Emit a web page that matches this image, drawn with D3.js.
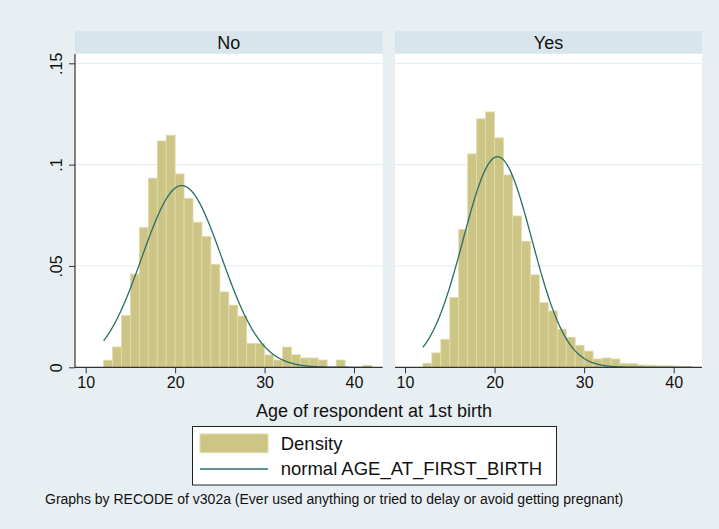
<!DOCTYPE html>
<html>
<head>
<meta charset="utf-8">
<script src="https://cdn.jsdelivr.net/npm/d3@7"></script>
<style>
body { margin: 0; background: #e8eff2; }
text { font-family: "Liberation Sans", Arial, sans-serif; fill: #111; }
</style>
</head>
<body>
<svg id="chart" width="719" height="529"></svg>
<script>
// histogram bins (start of each 1-year bin)
var binStarts = [12, 13, 14, 15, 16, 17, 18, 19, 20, 21, 22, 23, 24, 25, 26, 27, 28, 29, 30, 31, 32, 33, 34, 35, 36, 37, 38, 39, 40, 41];

var densityNo = [0.0035, 0.010, 0.0255, 0.046, 0.069, 0.0933, 0.1117, 0.1145, 0.0954, 0.0834,
                 0.0716, 0.0645, 0.0508, 0.0372, 0.0307, 0.0253, 0.0118, 0.0118, 0.0061, 0.0036,
                 0.010, 0.0062, 0.0046, 0.0046, 0.0036, 0, 0.0036, 0, 0, 0.001];

var densityYes = [0.002, 0.0071, 0.0138, 0.0345, 0.0681, 0.1053, 0.1226, 0.126, 0.1132, 0.0949,
                  0.0747, 0.0622, 0.0456, 0.0319, 0.0278, 0.0188, 0.0148, 0.0109, 0.008, 0.0041,
                  0.0046, 0.0041, 0.0018, 0.0018, 0.0011, 0.001, 0.0007, 0.0007, 0.0005, 0.0003];

// fitted normal parameters (mean, sd) for each panel
var normalNo = [20.74, 4.45];
var normalYes = [20.33, 3.84];

var panelNames = ["No", "Yes"];
var xTicks = [10, 20, 30, 40];
var yTicks = [0, 0.05, 0.1, 0.15];
var yTickLabels = ["0", ".05", ".1", ".15"];

var barFill = "#cdc586", barStroke = "#e2dcaa", curveColor = "#2a6e66";

var svg = d3.select("#chart");
svg.append("rect").attr("width", 719).attr("height", 529).attr("fill", "#e8eff2");

var plotTop = 54, plotBottom = 367.3;
var y = d3.scaleLinear().domain([0, 0.15]).range([plotBottom, 63.3]);

function normalPdf(x, p) {
    var z = (x - p[0]) / p[1];
    return Math.exp(-0.5 * z * z) / (p[1] * Math.sqrt(2 * Math.PI));
}

function drawPanel(left, right, x0, x40, name, dens, norm, showY) {
    var x = d3.scaleLinear().domain([10, 40]).range([x0, x40]);
    var g = svg.append("g");

    g.append("rect").attr("x", left).attr("y", 31).attr("width", right - left).attr("height", 22.3)
        .attr("fill", "#d9e5ec");
    g.append("text").attr("x", (left + right) / 2).attr("y", 48.5).attr("text-anchor", "middle")
        .style("font-size", "18px").text(name);

    g.append("rect").attr("x", left).attr("y", plotTop).attr("width", right - left)
        .attr("height", plotBottom - plotTop).attr("fill", "#ffffff");

    // grid lines
    g.selectAll(".grid").data(yTicks.slice(1)).enter().append("line")
        .attr("x1", left).attr("x2", right)
        .attr("y1", function(d) { return y(d); }).attr("y2", function(d) { return y(d); })
        .attr("stroke", "#e6eff1").attr("stroke-width", 1.2);

    // bars
    g.selectAll(".bar").data(binStarts).enter().append("rect")
        .filter(function(d, i) { return dens[i] > 0; })
        .attr("x", function(d) { return x(d); })
        .attr("width", function(d) { return x(d + 1) - x(d); })
        .attr("y", function(d) { return y(dens[binStarts.indexOf(d)]); })
        .attr("height", function(d) { return plotBottom - y(dens[binStarts.indexOf(d)]); })
        .attr("fill", barFill).attr("stroke", barStroke).attr("stroke-width", 0.8);

    // normal curve
    var pts = d3.range(12, 42.01, 0.1);
    var line = d3.line().x(function(d) { return x(d); }).y(function(d) { return y(normalPdf(d, norm)); });
    g.append("path").datum(pts).attr("d", line).attr("fill", "none")
        .attr("stroke", curveColor).attr("stroke-width", 1.3);

    // x axis
    var xa = g.append("g").attr("transform", "translate(0," + plotBottom + ")")
        .call(d3.axisBottom(x).tickValues(xTicks).tickSize(6).tickPadding(6).tickFormat(d3.format("d")));
    xa.select(".domain").remove();
    xa.selectAll("line").attr("stroke", "#333");
    xa.selectAll("text").style("font-size", "16px").style("font-family", "Liberation Sans, Arial, sans-serif")
        .attr("fill", "#111").attr("y", 9).attr("dy", "0.71em");
    g.append("line").attr("x1", left).attr("x2", right).attr("y1", plotBottom).attr("y2", plotBottom)
        .attr("stroke", "#333").attr("stroke-width", 1.2);

    if (showY) {
        var ya = g.append("g").attr("transform", "translate(" + left + ",0)")
            .call(d3.axisLeft(y).tickValues(yTicks).tickSize(6).tickFormat(function(d, i) { return yTickLabels[i]; }));
        ya.select(".domain").remove();
        ya.selectAll("line").attr("stroke", "#333");
        ya.selectAll("text").attr("x", null).attr("dy", null)
            .attr("transform", "translate(-13,0) rotate(-90)")
            .attr("text-anchor", "middle")
            .style("font-size", "16px").style("font-family", "Liberation Sans, Arial, sans-serif")
            .attr("fill", "#111");
        g.append("line").attr("x1", left).attr("x2", left).attr("y1", plotTop).attr("y2", plotBottom)
            .attr("stroke", "#333").attr("stroke-width", 1.2);
    }
}

drawPanel(75, 382.7, 85.7, 354, panelNames[0], densityNo, normalNo, true);
drawPanel(395, 702, 405, 673.7, panelNames[1], densityYes, normalYes, false);

// x title
svg.append("text").attr("x", 374).attr("y", 416.7).attr("text-anchor", "middle")
    .style("font-size", "18px").text("Age of respondent at 1st birth");

// legend
var lg = svg.append("g");
lg.append("rect").attr("x", 192.5).attr("y", 426.5).attr("width", 364).attr("height", 58.5)
    .attr("fill", "#fff").attr("stroke", "#222").attr("stroke-width", 1);
lg.append("rect").attr("x", 200).attr("y", 434).attr("width", 68).attr("height", 18.7)
    .attr("fill", barFill).attr("stroke", barStroke).attr("stroke-width", 1);
lg.append("line").attr("x1", 200).attr("x2", 268).attr("y1", 469).attr("y2", 469)
    .attr("stroke", curveColor).attr("stroke-width", 1.4);
lg.append("text").attr("x", 280.7).attr("y", 449.5).style("font-size", "18.5px").text("Density");
lg.append("text").attr("x", 280.7).attr("y", 474.5).style("font-size", "18.5px").text("normal AGE_AT_FIRST_BIRTH");

// note
svg.append("text").attr("x", 45).attr("y", 504).style("font-size", "14px")
    .text("Graphs by RECODE of v302a (Ever used anything or tried to delay or avoid getting pregnant)");
</script>
</body>
</html>
